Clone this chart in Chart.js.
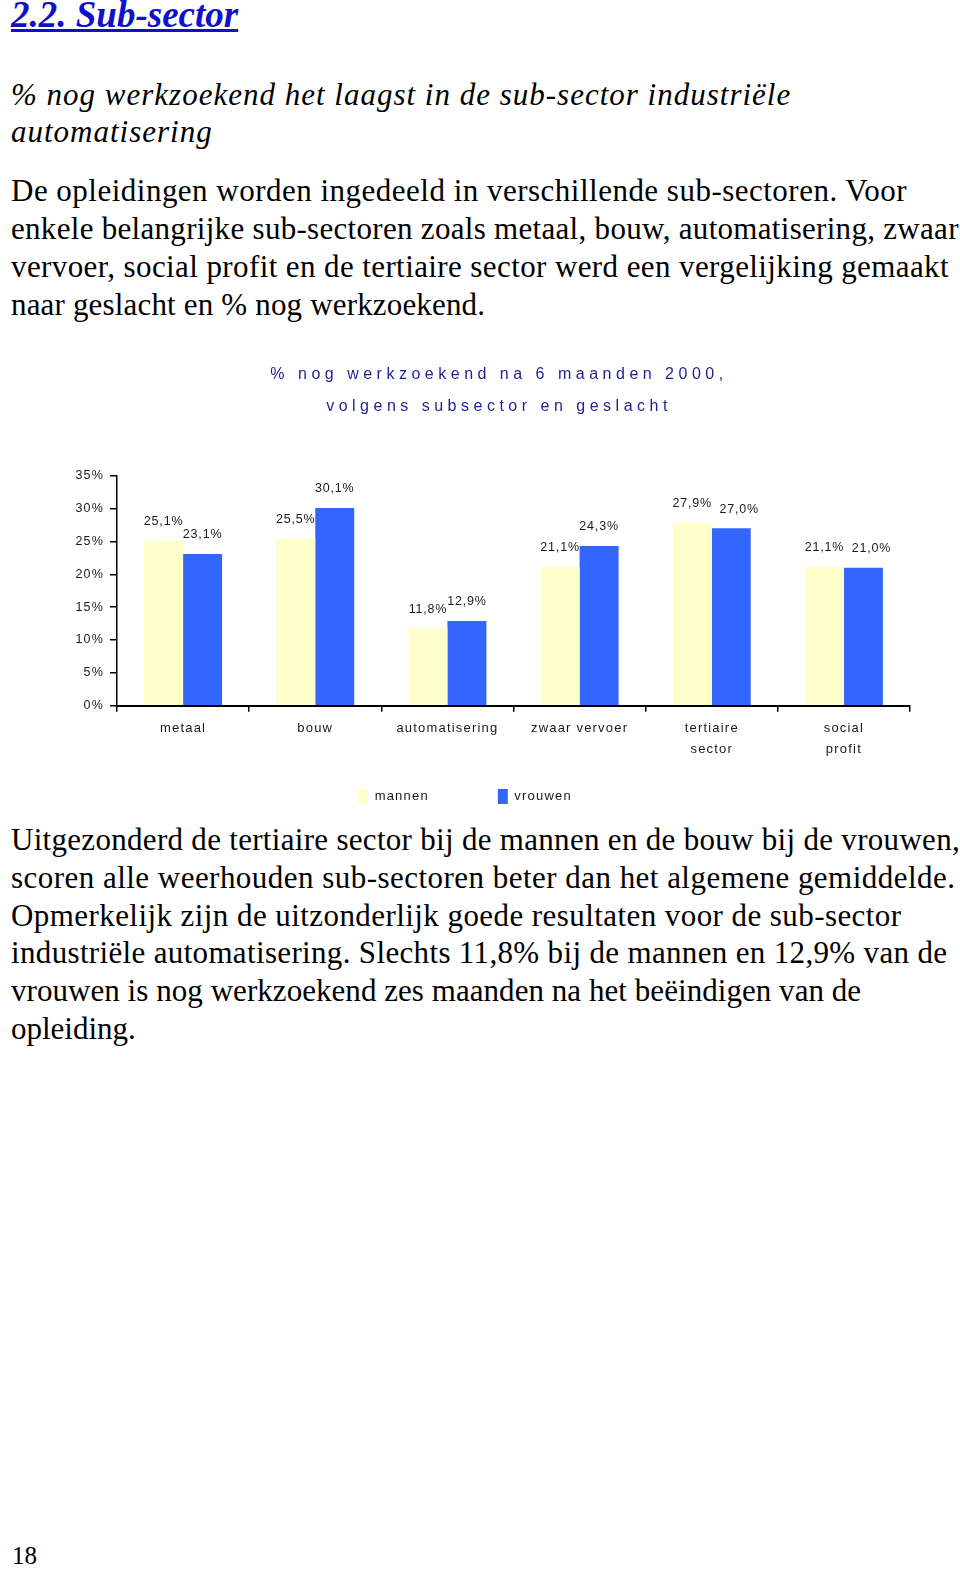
<!DOCTYPE html>
<html><head><meta charset="utf-8">
<script src="https://cdn.jsdelivr.net/npm/chart.js@4/dist/chart.umd.min.js"></script>
<style>
html,body{margin:0;padding:0;background:#fff;}
body{width:960px;height:1569px;position:relative;overflow:hidden;font-family:"Liberation Serif","Times New Roman",serif;color:#000;}
.t{position:absolute;left:11px;white-space:nowrap;}
.t span{display:block;}
#h{top:-7.5px;font-size:37px;line-height:44px;font-weight:bold;font-style:italic;color:#1111cc;text-decoration:underline;}
#s{top:75.5px;font-size:31px;line-height:37.7px;font-style:italic;letter-spacing:1px;}
#p1{top:171.5px;font-size:31px;line-height:38px;}
#p2{top:821px;font-size:31px;line-height:37.8px;}
#pn{top:1540.5px;font-size:25px;line-height:30px;left:12px;}
#cw{position:absolute;left:0;top:340px;width:960px;height:480px;}
</style></head>
<body>
<div class="t" id="h">2.2. Sub-sector</div>
<div class="t" id="s">% nog werkzoekend het laagst in de sub-sector industriële<br>automatisering</div>
<div class="t" id="p1"><span style="letter-spacing:0.49px">De opleidingen worden ingedeeld in verschillende sub-sectoren. Voor</span><span style="letter-spacing:0.3px">enkele belangrijke sub-sectoren zoals metaal, bouw, automatisering, zwaar</span><span style="letter-spacing:0.4px">vervoer, social profit en de tertiaire sector werd een vergelijking gemaakt</span><span style="letter-spacing:0.17px">naar geslacht en % nog werkzoekend.</span></div>
<div id="cw"><canvas id="c" width="960" height="480"></canvas></div>
<div class="t" id="p2"><span style="letter-spacing:0.3px">Uitgezonderd de tertiaire sector bij de mannen en de bouw bij de vrouwen,</span><span style="letter-spacing:0.47px">scoren alle weerhouden sub-sectoren beter dan het algemene gemiddelde.</span><span style="letter-spacing:0.43px">Opmerkelijk zijn de uitzonderlijk goede resultaten voor de sub-sector</span><span style="letter-spacing:0.34px">industriële automatisering. Slechts 11,8% bij de mannen en 12,9% van de</span><span style="letter-spacing:0.05px">vrouwen is nog werkzoekend zes maanden na het beëindigen van de</span><span>opleiding.</span></div>
<div class="t" id="pn">18</div>
<script>
const categories = [['metaal'], ['bouw'], ['automatisering'], ['zwaar vervoer'], ['tertiaire', 'sector'], ['social', 'profit']];
const seriesNames = ['mannen', 'vrouwen'];
const mannen = [25.1, 25.5, 11.8, 21.1, 27.9, 21.1];
const vrouwen = [23.1, 30.1, 12.9, 24.3, 27.0, 21.0];
const yMin = 0, yMax = 35, yStep = 5;
const chartTitle = ['% nog werkzoekend na 6 maanden 2000,', 'volgens subsector en geslacht'];

const FONT = '"Liberation Sans", Arial, Helvetica, sans-serif';
const fmt = v => v.toFixed(1).replace('.', ',') + '%';

const spacingPlugin = {
  id: 'spacing',
  beforeLayout(chart) { chart.ctx.letterSpacing = '1.2px'; },
  beforeDraw(chart) { chart.ctx.letterSpacing = '1.2px'; },
  afterLayout(chart) {
    const t = chart.titleBlock;
    if (!t) return;
    if (!t._wrapped) {
      const orig = t.draw;
      t.draw = function () {
        const c = this.ctx; c.save(); c.letterSpacing = '4.5px'; orig.call(this); c.restore();
      };
      t._wrapped = true;
    }
    t.left += 34; t.right += 34;
  }
};

// value labels above bars; a label that would sit at nearly the same height as
// its left neighbour (and is not higher) is nudged right, as in the original.
const valueLabels = {
  id: 'valueLabels',
  afterDatasetsDraw(chart) {
    const ctx = chart.ctx;
    ctx.save();
    ctx.font = '12.5px ' + FONT;
    ctx.fillStyle = '#1a1a1a';
    ctx.textAlign = 'center';
    ctx.textBaseline = 'middle';
    ctx.letterSpacing = '0.8px';
    const m0 = chart.getDatasetMeta(0).data;
    chart.data.datasets.forEach((ds, di) => {
      chart.getDatasetMeta(di).data.forEach((bar, i) => {
        let x = bar.x;
        const y = bar.y - 19;
        if (di === 1) {
          const py = m0[i].y - 19;
          if (y >= py && y - py < 12) x += 8;
        }
        ctx.fillText(fmt(ds.data[i]), x, y);
      });
    });
    ctx.restore();
  }
};

new Chart(document.getElementById('c'), {
  type: 'bar',
  data: {
    labels: categories,
    datasets: [
      { label: seriesNames[0], data: mannen, backgroundColor: '#FFFFCC', borderWidth: 0 },
      { label: seriesNames[1], data: vrouwen, backgroundColor: '#3366FF', borderWidth: 0 }
    ]
  },
  options: {
    responsive: false,
    animation: false,
    devicePixelRatio: 1,
    layout: { padding: { left: 20, right: 50, top: 0, bottom: 6 } },
    datasets: { bar: { categoryPercentage: 0.59, barPercentage: 1 } },
    plugins: {
      title: {
        display: true, text: chartTitle, color: '#1f1f96',
        font: { family: FONT, size: 16, weight: 'normal', lineHeight: 2 },
        padding: { top: 19, bottom: 52.7 }
      },
      legend: {
        position: 'bottom',
        labels: {
          boxWidth: 10, boxHeight: 15, padding: 69, color: '#1a1a1a',
          font: { family: FONT, size: 13 }
        }
      },
      tooltip: { enabled: false }
    },
    scales: {
      x: {
        afterFit(s) { s.height = 14.3; s._computeLabelArea = () => null; },
        grid: { offset: true, drawOnChartArea: false, drawTicks: true, tickLength: 6, color: '#000', lineWidth: 1.5 },
        border: { display: true, color: '#000', width: 2 },
        ticks: { autoSkip: false, maxRotation: 0, padding: 6, color: '#1a1a1a', font: { family: FONT, size: 13, lineHeight: '21px' } }
      },
      y: {
        min: yMin, max: yMax,
        afterFit(s) { s.width = 97; },
        grid: { drawOnChartArea: false, drawTicks: true, tickLength: 7, color: '#000', lineWidth: 1.5 },
        border: { display: true, color: '#000', width: 1.5 },
        ticks: { stepSize: yStep, padding: 6, color: '#1a1a1a', font: { family: FONT, size: 12.5 }, callback: v => v + '%' }
      }
    }
  },
  plugins: [spacingPlugin, valueLabels]
});
</script>
</body></html>
